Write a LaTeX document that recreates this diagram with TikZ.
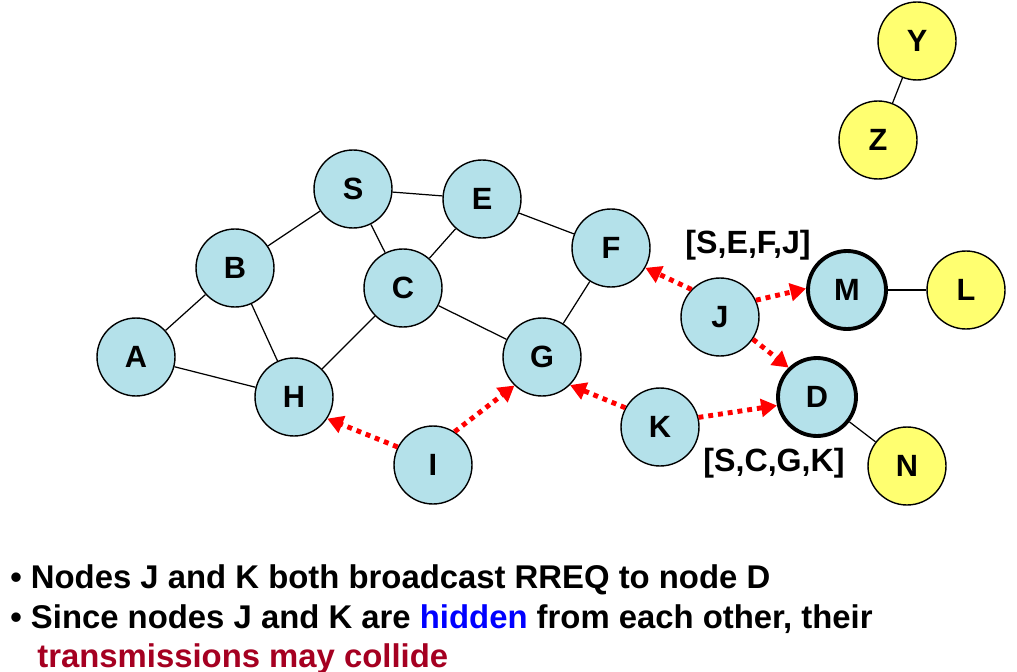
\documentclass[tikz,border=0pt]{standalone}
\usepackage{fontspec}
\setmainfont{Liberation Sans}
\usetikzlibrary{arrows.meta}

\definecolor{nodeblue}{RGB}{180,225,234}
\definecolor{nodeyellow}{RGB}{255,255,112}
\definecolor{collidered}{RGB}{165,0,33}

\tikzset{
  netnode/.style={circle, draw, line width=0.8pt, fill=nodeblue, minimum size=1.56cm,
    inner sep=0pt, font=\fontsize{17.5}{17.5}\selectfont\bfseries},
  farnode/.style={netnode, fill=nodeyellow},
  destnode/.style={netnode, line width=2.2pt},
  link/.style={line width=0.7pt},
  bcast/.style={draw=red, line width=2.8pt, dash pattern=on 2.8pt off 2.8pt,
    -{Triangle[length=9pt,width=10pt]}},
  route/.style={font=\fontsize{18.3}{18.3}\selectfont\bfseries},
  bullet/.style={anchor=base west, inner sep=0pt, font=\fontsize{18.7}{18.7}\selectfont\bfseries}
}

\begin{document}
\begin{tikzpicture}[x=0.02cm, y=-0.02cm]

    % 画布大小
    \useasboundingbox (0,0) rectangle (1017,672);

    % 网络中的节点
    \node[netnode] (S) at (353,189) {S};
    \node[netnode] (E) at (482,199) {E};
    \node[netnode] (F) at (611,248) {F};
    \node[netnode] (B) at (235,268) {B};
    \node[netnode] (C) at (403,288) {C};
    \node[netnode] (A) at (136,357) {A};
    \node[netnode] (G) at (542,357) {G};
    \node[netnode] (H) at (294,397) {H};
    \node[netnode] (I) at (433,465) {I};
    \node[netnode] (J) at (720,317) {J};
    \node[netnode] (K) at (660,427) {K};

    % 目的节点(粗边框)
    \node[destnode] (M) at (847,290) {M};
    \node[destnode] (D) at (817,397) {D};

    % 黄色节点
    \node[farnode] (Y) at (917,41) {Y};
    \node[farnode] (Z) at (878,140) {Z};
    \node[farnode] (L) at (966,290) {L};
    \node[farnode] (N) at (907,466) {N};

    % 链路
    \draw[link] (A) -- (B);
    \draw[link] (A) -- (H);
    \draw[link] (B) -- (S);
    \draw[link] (B) -- (H);
    \draw[link] (S) -- (E);
    \draw[link] (S) -- (C);
    \draw[link] (E) -- (C);
    \draw[link] (E) -- (F);
    \draw[link] (C) -- (H);
    \draw[link] (C) -- (G);
    \draw[link] (F) -- (G);
    \draw[link] (M) -- (L);
    \draw[link] (D) -- (N);
    \draw[link] (Y) -- (Z);

    % RREQ 广播
    \draw[bcast] (J.136) -- (F.-30);
    \draw[bcast] (J.25) -- (M.178);
    \draw[bcast] (J.-34) -- (D.134);
    \draw[bcast] (K.14) -- (D.192);
    \draw[bcast] (K.151) -- (G.-45);
    \draw[bcast] (I.57) -- (G.226);
    \draw[bcast] (I.153) -- (H.-33);

    % 路由记录
    \node[route] (rJ) at (748,245) {[S,E,F,J]};
    \node[route] (rK) at (774,463) {[S,C,G,K]};

    % 说明文字
    \node[bullet] (t1) at (10,588) {\textbullet\ Nodes J and K both broadcast RREQ to node D};
    \node[bullet] (t2) at (10,628) {\textbullet\ Since nodes J and K are \textcolor{blue}{hidden} from each other, their};
    \node[bullet, text=collidered] (t3) at (37,667) {transmissions may collide};

\end{tikzpicture}
\end{document}
